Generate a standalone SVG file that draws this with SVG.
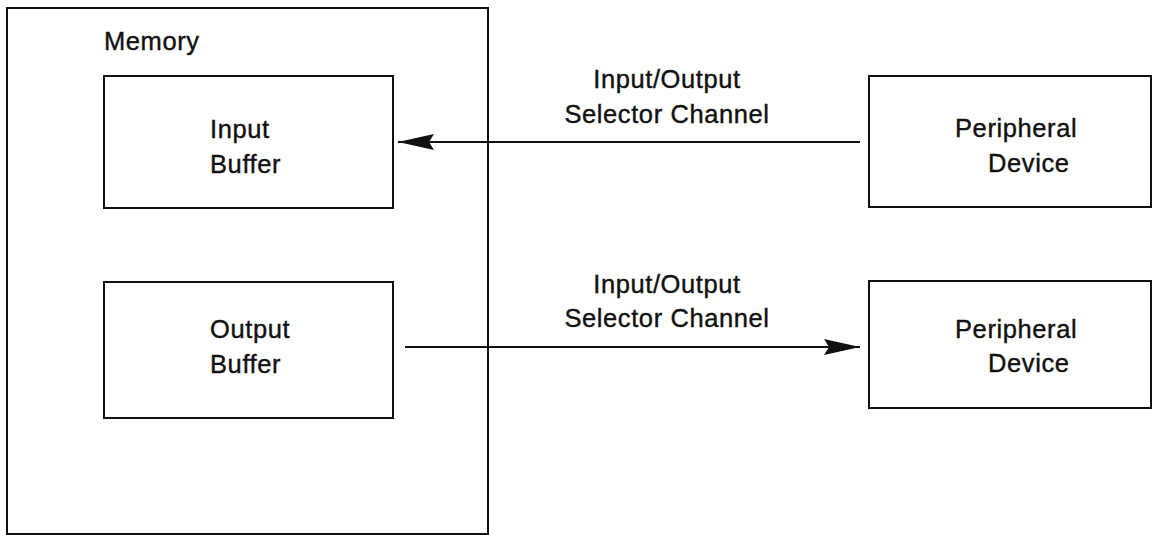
<svg xmlns="http://www.w3.org/2000/svg" width="1152" height="535" viewBox="0 0 1152 535">
<style>
.box{fill:none;stroke:#111;stroke-width:2}
.lbl{font-family:"Liberation Sans",Arial,sans-serif;font-size:25.5px;fill:#111;stroke:#111;stroke-width:0.4;letter-spacing:0.6px}
.mid{text-anchor:middle}
.line{stroke:#111;stroke-width:2;fill:none}
</style>
<defs>
<marker id="ah" markerUnits="userSpaceOnUse" markerWidth="40" markerHeight="20" refX="36" refY="10" orient="auto">
<path d="M0,2 L36,10 L0,18 L5,10 Z" fill="#111"/>
</marker>
</defs>
<g id="memory">
<rect class="box" x="7" y="8" width="481" height="526"/>
<text class="lbl" x="104" y="50">Memory</text>
</g>
<g id="input-buffer">
<rect class="box" x="104" y="76" width="289" height="132"/>
<text class="lbl" x="210" y="138">Input</text>
<text class="lbl" x="210" y="173">Buffer</text>
</g>
<g id="output-buffer">
<rect class="box" x="104" y="282" width="289" height="136"/>
<text class="lbl" x="210" y="338">Output</text>
<text class="lbl" x="210" y="373">Buffer</text>
</g>
<g id="peripheral-1">
<rect class="box" x="869" y="76" width="282" height="131"/>
<text class="lbl" x="955" y="137">Peripheral</text>
<text class="lbl" x="988" y="172">Device</text>
</g>
<g id="peripheral-2">
<rect class="box" x="869" y="281" width="282" height="127"/>
<text class="lbl" x="955" y="338">Peripheral</text>
<text class="lbl" x="988" y="372">Device</text>
</g>
<g id="connectors">
<line class="line" x1="860" y1="142" x2="398" y2="142" marker-end="url(#ah)"/>
<line class="line" x1="405" y1="347" x2="860" y2="347" marker-end="url(#ah)"/>
</g>
<g id="labels">
<text class="lbl mid" x="667" y="88">Input/Output</text>
<text class="lbl mid" x="667" y="123">Selector Channel</text>
<text class="lbl mid" x="667" y="293">Input/Output</text>
<text class="lbl mid" x="667" y="327">Selector Channel</text>
</g>
</svg>
